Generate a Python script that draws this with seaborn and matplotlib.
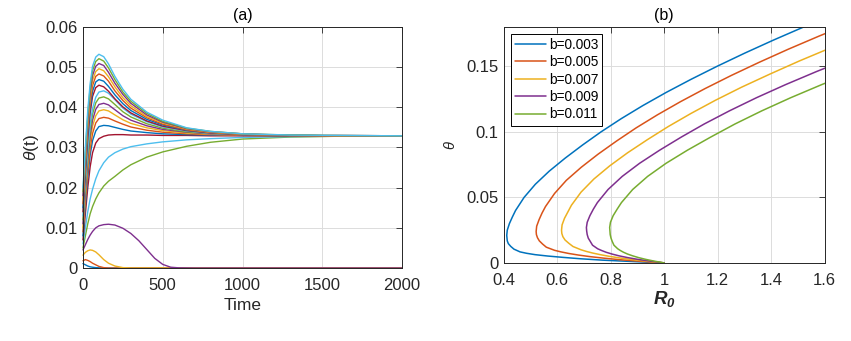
import matplotlib
matplotlib.use("Agg")
import matplotlib.pyplot as plt
import seaborn as sns
import pandas as pd

# MATLAB default colour order
matlab_colors = ['#0072BD', '#D95319', '#EDB120', '#7E2F8E', '#77AC30', '#4DBEEE', '#A2142F']

# ---- panel (a): theta(t) for 20 initial conditions ----
t_lo = [0, 15, 30, 45, 60, 80, 100, 130, 160, 200, 250, 300, 350, 400, 450, 500, 550, 600, 700, 2000]
t_hi = [0, 15, 30, 45, 60, 80, 100, 130, 160, 200, 250, 300, 400, 500, 650, 800, 1000, 1300, 1600, 2000]

# runs that die out (plotted on t_lo)
dying_runs = [
    [0.0011, 0.0008, 0.0005, 0.0003, 0.0002, 0.0001, 0.00005, 0, 0, 0, 0, 0, 0, 0, 0, 0, 0, 0, 0, 0],
    [0.0018, 0.0021, 0.0019, 0.0016, 0.0012, 0.0008, 0.0004, 0.0001, 0, 0, 0, 0, 0, 0, 0, 0, 0, 0, 0, 0],
    [0.0032, 0.0039, 0.0043, 0.0045, 0.0044, 0.0040, 0.0033, 0.0021, 0.0012, 0.0005, 0.0001, 0, 0, 0, 0, 0, 0, 0, 0, 0],
    [0.0045, 0.0058, 0.0071, 0.0082, 0.0091, 0.0100, 0.0105, 0.0108, 0.0109, 0.0107, 0.0099, 0.0086, 0.0068,
     0.0046, 0.0024, 0.0009, 0.0002, 0.00005, 0, 0],
]

# runs that settle at the endemic level (plotted on t_hi)
settling_runs = [
    [0.0050, 0.0080, 0.0110, 0.0135, 0.0153, 0.0172, 0.0187, 0.0204, 0.0216, 0.0228, 0.0244, 0.0257, 0.0276, 0.0289, 0.0303, 0.0313, 0.0321, 0.0326, 0.0328, 0.0329],
    [0.0060, 0.0100, 0.0140, 0.0172, 0.0196, 0.0222, 0.0242, 0.0262, 0.0276, 0.0287, 0.0296, 0.0302, 0.0309, 0.0314, 0.0319, 0.0322, 0.0325, 0.0327, 0.0328, 0.0329],
    [0.0070, 0.0135, 0.0200, 0.0252, 0.0287, 0.0311, 0.0322, 0.0328, 0.0331, 0.0332, 0.0332, 0.0331, 0.0331, 0.0330, 0.0330, 0.0329, 0.0329, 0.0329, 0.0329, 0.0329],
    [0.0080, 0.0154, 0.0226, 0.0281, 0.0317, 0.0341, 0.0352, 0.0355, 0.0354, 0.0350, 0.0345, 0.0341, 0.0337, 0.0334, 0.0332, 0.0331, 0.0330, 0.0329, 0.0329, 0.0329],
    [0.0090, 0.0167, 0.0241, 0.0298, 0.0335, 0.0361, 0.0372, 0.0375, 0.0373, 0.0366, 0.0358, 0.0351, 0.0343, 0.0338, 0.0334, 0.0332, 0.0330, 0.0329, 0.0329, 0.0329],
    [0.0100, 0.0179, 0.0256, 0.0315, 0.0353, 0.0379, 0.0391, 0.0394, 0.0391, 0.0381, 0.0369, 0.0360, 0.0349, 0.0342, 0.0336, 0.0333, 0.0331, 0.0330, 0.0329, 0.0329],
    [0.0110, 0.0191, 0.0269, 0.0329, 0.0368, 0.0395, 0.0407, 0.0410, 0.0406, 0.0394, 0.0379, 0.0368, 0.0354, 0.0345, 0.0338, 0.0334, 0.0331, 0.0330, 0.0329, 0.0329],
    [0.0120, 0.0203, 0.0282, 0.0343, 0.0383, 0.0411, 0.0423, 0.0426, 0.0421, 0.0407, 0.0389, 0.0376, 0.0359, 0.0348, 0.0339, 0.0335, 0.0332, 0.0330, 0.0329, 0.0329],
    [0.0130, 0.0214, 0.0295, 0.0357, 0.0397, 0.0425, 0.0438, 0.0441, 0.0435, 0.0419, 0.0398, 0.0383, 0.0364, 0.0351, 0.0341, 0.0335, 0.0332, 0.0330, 0.0329, 0.0329],
    [0.0140, 0.0235, 0.0323, 0.0386, 0.0427, 0.0449, 0.0455, 0.0451, 0.0440, 0.0421, 0.0401, 0.0386, 0.0366, 0.0353, 0.0342, 0.0336, 0.0332, 0.0330, 0.0329, 0.0329],
    [0.0150, 0.0246, 0.0335, 0.0399, 0.0440, 0.0463, 0.0469, 0.0465, 0.0452, 0.0431, 0.0409, 0.0392, 0.0370, 0.0356, 0.0343, 0.0337, 0.0333, 0.0330, 0.0329, 0.0329],
    [0.0160, 0.0257, 0.0347, 0.0412, 0.0454, 0.0477, 0.0483, 0.0478, 0.0465, 0.0441, 0.0417, 0.0398, 0.0374, 0.0358, 0.0344, 0.0337, 0.0333, 0.0330, 0.0329, 0.0329],
    [0.0170, 0.0268, 0.0359, 0.0424, 0.0467, 0.0489, 0.0496, 0.0491, 0.0476, 0.0451, 0.0424, 0.0404, 0.0377, 0.0361, 0.0346, 0.0338, 0.0333, 0.0330, 0.0329, 0.0329],
    [0.0180, 0.0279, 0.0371, 0.0437, 0.0479, 0.0502, 0.0509, 0.0504, 0.0487, 0.0460, 0.0432, 0.0410, 0.0381, 0.0363, 0.0347, 0.0339, 0.0334, 0.0330, 0.0330, 0.0329],
    [0.0190, 0.0289, 0.0382, 0.0448, 0.0491, 0.0514, 0.0521, 0.0515, 0.0498, 0.0469, 0.0438, 0.0415, 0.0385, 0.0365, 0.0348, 0.0340, 0.0334, 0.0331, 0.0330, 0.0329],
    [0.0200, 0.0300, 0.0393, 0.0459, 0.0502, 0.0525, 0.0532, 0.0526, 0.0508, 0.0477, 0.0445, 0.0420, 0.0388, 0.0368, 0.0349, 0.0340, 0.0334, 0.0331, 0.0330, 0.0329],
]

# ---- panel (b): bifurcation curves ----
b_labels = ['b=0.003', 'b=0.005', 'b=0.007', 'b=0.009', 'b=0.011']

theta_b003 = [0, 0.00105, 0.0021, 0.00315, 0.0042, 0.00525, 0.0063, 0.00735, 0.0084, 0.0105, 0.0126,
              0.0147, 0.0168, 0.0189, 0.021, 0.025, 0.030, 0.035, 0.040, 0.050, 0.060, 0.070, 0.080,
              0.090, 0.100, 0.110, 0.120, 0.130, 0.140, 0.150, 0.160, 0.170, 0.180]
r0_b003 = [1.0, 0.882, 0.770, 0.688, 0.623, 0.564, 0.517, 0.485, 0.461, 0.438, 0.426,
           0.417, 0.413, 0.412, 0.411, 0.413, 0.421, 0.432, 0.444, 0.476, 0.518, 0.570, 0.630,
           0.695, 0.764, 0.839, 0.920, 1.007, 1.100, 1.198, 1.301, 1.409, 1.522]

theta_b005 = [0, 0.0012, 0.0024, 0.0036, 0.0048, 0.006, 0.0072, 0.0084, 0.0096, 0.012, 0.0144,
              0.0168, 0.0192, 0.0216, 0.024, 0.028, 0.033, 0.038, 0.043, 0.053, 0.063, 0.073, 0.083,
              0.093, 0.103, 0.113, 0.123, 0.133, 0.143, 0.153, 0.163, 0.173, 0.183]
r0_b005 = [1.0, 0.914, 0.837, 0.775, 0.722, 0.679, 0.643, 0.614, 0.590, 0.559, 0.545,
           0.533, 0.526, 0.522, 0.521, 0.523, 0.532, 0.543, 0.556, 0.590, 0.634, 0.690, 0.753,
           0.822, 0.895, 0.975, 1.061, 1.153, 1.251, 1.355, 1.464, 1.579, 1.699]

theta_b007 = [0, 0.00125, 0.0025, 0.00375, 0.005, 0.00625, 0.0075, 0.00875, 0.010, 0.0125, 0.015,
              0.0175, 0.020, 0.0225, 0.025, 0.029, 0.034, 0.039, 0.044, 0.054, 0.064, 0.074, 0.084,
              0.094, 0.104, 0.114, 0.124, 0.134, 0.144, 0.154, 0.164, 0.174]
r0_b007 = [1.0, 0.937, 0.881, 0.835, 0.795, 0.762, 0.733, 0.709, 0.689, 0.659, 0.643,
           0.629, 0.621, 0.617, 0.616, 0.618, 0.627, 0.640, 0.653, 0.689, 0.737, 0.796, 0.863,
           0.937, 1.015, 1.100, 1.191, 1.289, 1.395, 1.505, 1.622, 1.744]

theta_b009 = [0, 0.00135, 0.0027, 0.00405, 0.0054, 0.00675, 0.0081, 0.00945, 0.0108, 0.0135, 0.0162,
              0.0189, 0.0216, 0.0243, 0.027, 0.031, 0.036, 0.041, 0.046, 0.056, 0.066, 0.076, 0.086,
              0.096, 0.106, 0.116, 0.126, 0.136, 0.146, 0.156]
r0_b009 = [1.0, 0.948, 0.901, 0.863, 0.831, 0.805, 0.783, 0.766, 0.751, 0.732, 0.724,
           0.716, 0.712, 0.710, 0.709, 0.712, 0.722, 0.735, 0.750, 0.790, 0.843, 0.908, 0.983,
           1.064, 1.150, 1.244, 1.345, 1.454, 1.570, 1.693]

theta_b011 = [0, 0.00135, 0.0027, 0.00405, 0.0054, 0.00675, 0.0081, 0.00945, 0.0108, 0.0135, 0.0162,
              0.0189, 0.0216, 0.0243, 0.027, 0.031, 0.036, 0.041, 0.046, 0.056, 0.066, 0.076, 0.086,
              0.096, 0.106, 0.116, 0.126, 0.136, 0.146]
r0_b011 = [1.0, 0.963, 0.931, 0.904, 0.882, 0.863, 0.848, 0.836, 0.826, 0.812, 0.806,
           0.801, 0.798, 0.797, 0.796, 0.799, 0.809, 0.824, 0.840, 0.882, 0.938, 1.007, 1.087,
           1.174, 1.265, 1.365, 1.473, 1.589, 1.712]

# long tables for seaborn
rows = []
run_id = 0
for vals in dying_runs:
    for t, v in zip(t_lo, vals):
        rows.append((run_id, t, v))
    run_id += 1
for vals in settling_runs:
    for t, v in zip(t_hi, vals):
        rows.append((run_id, t, v))
    run_id += 1
df_a = pd.DataFrame(rows, columns=['run', 'time', 'theta'])
palette_a = [matlab_colors[i % 7] for i in range(run_id)]

rows_b = []
curves_b = [(theta_b003, r0_b003), (theta_b005, r0_b005), (theta_b007, r0_b007),
            (theta_b009, r0_b009), (theta_b011, r0_b011)]
for lab, (ths, r0s) in zip(b_labels, curves_b):
    for th, r in zip(ths, r0s):
        rows_b.append((lab, r, th))
df_b = pd.DataFrame(rows_b, columns=['b', 'R0', 'theta'])

sns.set_theme(style='whitegrid')
plt.rcParams['font.family'] = ['Liberation Sans', 'DejaVu Sans']
plt.rcParams['mathtext.fontset'] = 'custom'
plt.rcParams['mathtext.rm'] = 'Liberation Sans'
plt.rcParams['mathtext.it'] = 'Liberation Sans:italic'
plt.rcParams['mathtext.bf'] = 'Liberation Sans:bold'
plt.rcParams['mathtext.bfit'] = 'Liberation Sans:bold:italic'

fig = plt.figure(figsize=(8.51, 3.41), dpi=100)
ax1 = fig.add_axes([0.0975, 0.214, 0.375, 0.707])
ax2 = fig.add_axes([0.592, 0.229, 0.377, 0.692])

sns.lineplot(data=df_a, x='time', y='theta', hue='run', palette=palette_a,
             estimator=None, sort=False, legend=False, linewidth=1.0, ax=ax1)
for ln in ax1.lines:
    ln.set_clip_on(False)

sns.lineplot(data=df_b, x='R0', y='theta', hue='b', palette=matlab_colors[:5],
             estimator=None, sort=False, units='b', linewidth=1.1, ax=ax2)

text_col = '#262626'
for ax in (ax1, ax2):
    ax.set_facecolor('white')
    ax.grid(True, color='#dcdcdc', linewidth=0.7)
    for s in ax.spines.values():
        s.set_visible(True)
        s.set_color(text_col)
        s.set_linewidth(0.7)
    ax.tick_params(direction='in', length=4, width=0.6, colors=text_col,
                   labelsize=12, top=True, right=True)
    ax.tick_params(axis='x', pad=7)
    ax.tick_params(axis='y', pad=4)

ax1.set_xlim(0, 2000)
ax1.set_ylim(0, 0.06)
ax1.set_xticks([0, 500, 1000, 1500, 2000])
ax1.set_xticklabels(['0', '500', '1000', '1500', '2000'])
ax1.set_yticks([0, 0.01, 0.02, 0.03, 0.04, 0.05, 0.06])
ax1.set_yticklabels(['0', '0.01', '0.02', '0.03', '0.04', '0.05', '0.06'])
ax1.set_xlabel('Time', fontsize=12.5, color=text_col, labelpad=4)
ax1.set_ylabel(r'$\theta$(t)', fontsize=12.5, color=text_col, labelpad=3)
ax1.set_title('(a)', fontsize=11.5, color='black', pad=5)

ax2.set_xlim(0.4, 1.6)
ax2.set_ylim(0, 0.18)
ax2.set_xticks([0.4, 0.6, 0.8, 1.0, 1.2, 1.4, 1.6])
ax2.set_xticklabels(['0.4', '0.6', '0.8', '1', '1.2', '1.4', '1.6'])
ax2.set_yticks([0, 0.05, 0.1, 0.15])
ax2.set_yticklabels(['0', '0.05', '0.1', '0.15'])
ax2.set_xlabel(r'$\mathbfit{R}_\mathbfit{0}$', fontsize=13.5, color=text_col, labelpad=1)
ax2.set_ylabel(r'$\theta$', fontsize=10.5, color=text_col, labelpad=6)
ax2.set_title('(b)', fontsize=11.5, color='black', pad=5)

leg = ax2.legend(loc='upper left', fontsize=9.8, frameon=True, fancybox=False,
                 handlelength=2.3, handletextpad=0.2, labelspacing=0.25,
                 borderpad=0.3, borderaxespad=0.5, title=None)
leg.get_frame().set_edgecolor('black')
leg.get_frame().set_linewidth(0.7)
leg.get_frame().set_alpha(1)
for txt in leg.get_texts():
    txt.set_color('black')

fig.savefig('out.png', dpi=100, facecolor='white')
